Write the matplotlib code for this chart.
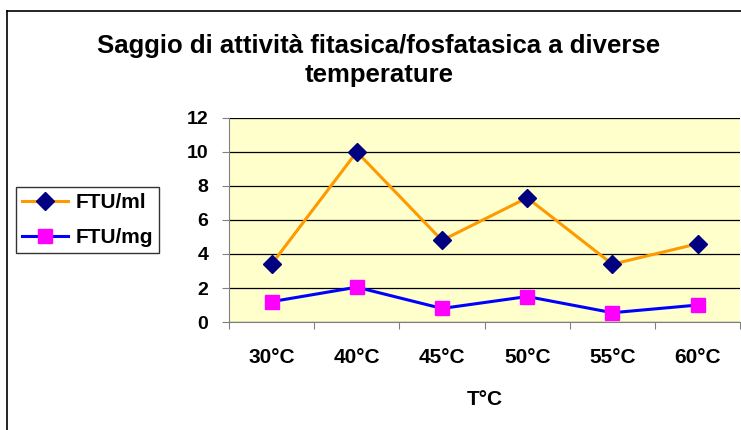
import matplotlib

matplotlib.use("Agg")
import matplotlib.pyplot as plt  # noqa: E402
from matplotlib.lines import Line2D  # noqa: E402
import numpy as np  # noqa: E402

# activity at each temperature
temperatures = ["30°C", "40°C", "45°C", "50°C", "55°C", "60°C"]
ftu_ml = [3.4, 10.0, 4.8, 7.3, 3.4, 4.6]
ftu_mg = [1.2, 2.05, 0.8, 1.5, 0.55, 1.0]
y_ticks = [0, 2, 4, 6, 8, 10, 12]

plt.rcParams["font.family"] = ["Liberation Sans", "DejaVu Sans"]
plt.rcParams["font.weight"] = "bold"

fig = plt.figure(figsize=(7.41, 4.30), dpi=100)
ax = fig.add_axes([0.309, 0.251, 0.69, 0.475])

# outer chart border (runs off the right and bottom edges)
fig.add_artist(Line2D([7 / 741, 7 / 741], [0, 1 - 11 / 430], color="black", lw=1.2))
fig.add_artist(Line2D([7 / 741, 1], [1 - 11 / 430, 1 - 11 / 430], color="black", lw=1.2))

x = np.arange(len(temperatures))
ax.set_facecolor("#FFFFCC")
ax.plot(x, ftu_ml, color="#FF9900", lw=2.2, marker="D", ms=9,
        mfc="#000080", mec="#000080", label="FTU/ml", zorder=3)
ax.plot(x, ftu_mg, color="#0000FF", lw=2.2, marker="s", ms=10,
        mfc="#FF00FF", mec="#FF00FF", label="FTU/mg", zorder=3)

ax.set_xlim(-0.5, len(temperatures) - 0.5)
ax.set_ylim(0, 12)
ax.set_yticks(y_ticks)
ax.yaxis.grid(True, color="black", lw=0.9)
ax.set_axisbelow(True)

# category ticks sit between the labels
ax.set_xticks(np.arange(len(temperatures) + 1) - 0.5)
ax.set_xticklabels([])
ax.set_xticks(x, minor=True)
ax.set_xticklabels(temperatures, minor=True, fontsize=15, fontweight="bold")
ax.tick_params(axis="x", which="major", direction="out", length=5, color="#808080")
ax.tick_params(axis="x", which="minor", length=0, pad=19)
ax.tick_params(axis="y", direction="out", length=5, color="#808080", labelsize=14, pad=10)
for lbl in ax.get_yticklabels():
    lbl.set_fontweight("bold")

for side in ("top", "right"):
    ax.spines[side].set_visible(False)
ax.spines["left"].set_color("#808080")
ax.spines["bottom"].set_color("#808080")

ax.set_xlabel("T°C", fontsize=15, fontweight="bold", labelpad=16)
fig.text(0.511, 0.859, "Saggio di attività fitasica/fosfatasica a diverse\ntemperature",
         ha="center", va="center", fontsize=18.5, fontweight="bold", linespacing=1.25)

leg = fig.legend(loc="center left", bbox_to_anchor=(16 / 741, 1 - 220 / 430),
                 fontsize=15, frameon=True, fancybox=False, edgecolor="black",
                 handlelength=2.2, borderpad=0.3, labelspacing=0.75, handletextpad=0.35,
                 borderaxespad=0)
leg.get_frame().set_linewidth(1.0)
for t in leg.get_texts():
    t.set_fontweight("bold")

fig.savefig("out.png", dpi=100)
plt.close(fig)
